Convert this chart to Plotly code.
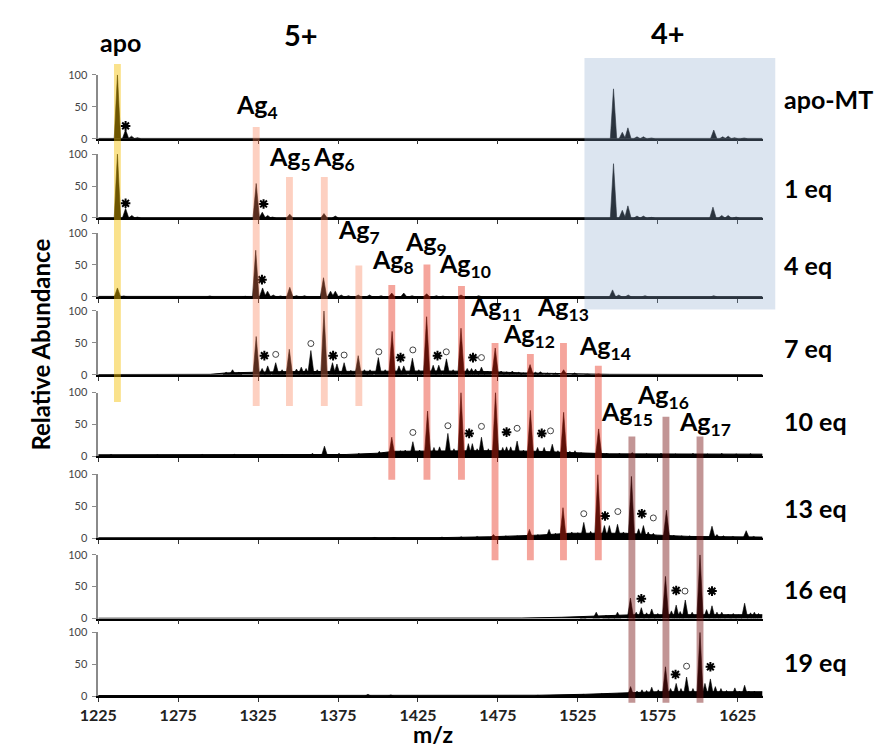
import plotly.graph_objects as go

# ---------------- DATA ----------------
panel_labels = ["apo-MT", "1 eq", "4 eq", "7 eq", "10 eq", "13 eq", "16 eq", "19 eq"]
x_ticks = [1225, 1275, 1325, 1375, 1425, 1475, 1525, 1575, 1625]
y_ticks = [0, 50, 100]

# (m/z, relative abundance) of the peaks in each spectrum
peaks_apo_mt = [(1237.0, 100), (1242.1, 14), (1245.8, 4), (1249.5, 1.5),
                (1547.3, 78), (1552.8, 10), (1556.3, 17), (1562.0, 3), (1566.0, 3), (1571.0, 1),
                (1610.0, 13.5), (1615.6, 3), (1619.0, 4), (1623.0, 1.5), (1629.0, 1)]
peaks_1eq = [(1237.0, 100), (1242.1, 15), (1246.0, 4), (1249.5, 1.5),
             (1323.8, 54), (1327.6, 9), (1331.0, 4), (1334.0, 1.5), (1344.8, 6), (1366.2, 7), (1373.3, 3),
             (1547.3, 85), (1552.8, 12), (1556.3, 19), (1562.0, 3), (1566.0, 3), (1571.0, 1),
             (1609.5, 17), (1615.0, 4), (1619.0, 4), (1624.0, 1.5)]
peaks_4eq = [(1237.0, 14), (1241.0, 1.5), (1294.8, 1.5), (1317.0, 1), (1323.5, 73), (1327.8, 14),
             (1330.9, 9), (1334.5, 3), (1339.0, 1.5), (1344.8, 15), (1349.0, 2), (1354.0, 2),
             (1365.9, 30), (1370.3, 9), (1373.3, 9), (1377.0, 3), (1381.5, 2), (1387.6, 3),
             (1394.7, 3), (1401.9, 2), (1408.6, 6), (1416.1, 6), (1421.3, 2), (1430.4, 5),
             (1436.5, 2), (1440.6, 1.5), (1451.9, 3), (1463.0, 2),
             (1546.7, 11), (1550.6, 3), (1556.5, 3), (1567.0, 2), (1610.0, 2)]
peaks_7eq = [(1305, 4), (1309, 8), (1313, 4), (1323.8, 60), (1327.5, 10), (1331, 14), (1336, 19),
             (1340, 8), (1344.5, 40), (1349, 9), (1352, 12), (1355, 10), (1358, 38), (1362, 8),
             (1366.2, 100), (1371.5, 19), (1374.3, 17), (1378.8, 19), (1383, 7), (1387.6, 30),
             (1391.5, 8), (1395, 8), (1400.2, 27), (1404.5, 8), (1408.8, 68), (1413.1, 14),
             (1416.1, 14), (1421.5, 26), (1425.5, 8), (1430.4, 91), (1434.5, 15), (1438.0, 15),
             (1442.8, 25), (1447, 8), (1451.9, 73), (1455.8, 10), (1458.5, 10), (1461, 9),
             (1464.7, 12), (1468.5, 6), (1473.3, 42), (1477, 6), (1480.5, 5), (1484, 6),
             (1488, 4), (1491, 3), (1495.1, 16), (1498.5, 4), (1501.6, 5), (1506, 3), (1511, 3),
             (1516.1, 8), (1523, 3), (1531, 1), (1538, 1.5)]
peaks_10eq = [(1233, 3), (1262, 2.5), (1290, 3), (1310, 3.5), (1340, 3), (1359, 5), (1366.5, 16),
              (1375.6, 5), (1388, 5), (1395, 4), (1400.8, 8), (1408.6, 30), (1414, 9), (1417, 10),
              (1421.8, 23), (1426, 10), (1431, 71), (1435, 14), (1438.5, 15), (1443.7, 36),
              (1447.5, 12), (1451.9, 100), (1456.5, 20), (1459, 20), (1462, 12), (1464.7, 30),
              (1469, 12), (1473.5, 100), (1478, 14), (1480.4, 15), (1483, 15), (1487, 24),
              (1491, 10), (1495.3, 72), (1499.8, 14), (1503.9, 14), (1509, 19), (1512.5, 9),
              (1516.1, 69), (1520, 8), (1523.2, 9), (1527, 6), (1532, 5), (1538, 43), (1543, 5),
              (1551, 5), (1559, 6), (1568, 4.5), (1577, 5), (1586, 4), (1597, 5), (1606, 4),
              (1615, 5), (1624, 4), (1633, 4.5)]
peaks_13eq = [(1398, 1.5), (1410, 1.5), (1440, 2), (1452, 2.5), (1462, 3), (1472.2, 6), (1480, 4),
              (1487, 4), (1494.7, 14), (1500, 6), (1507, 14), (1511, 8), (1515.7, 48),
              (1521.2, 10), (1525, 9), (1528.7, 25), (1533, 11), (1537.5, 100), (1541.6, 20),
              (1544.7, 20), (1549.8, 22), (1553.5, 10), (1558.5, 97), (1563, 15), (1566, 20),
              (1569, 10), (1572.2, 8), (1580.4, 44), (1585, 5), (1590, 4), (1595, 4),
              (1601.4, 3), (1608.9, 19), (1612, 6), (1616, 4), (1622, 3), (1630.3, 12), (1635, 3)]
peaks_16eq = [(1528.3, 2), (1536.5, 10), (1542.6, 5), (1546, 5), (1549.8, 10), (1557.9, 32),
              (1561.5, 10), (1564.7, 17), (1568, 9), (1571.2, 15), (1575, 8), (1579.8, 66),
              (1583.5, 12), (1586.5, 21), (1589, 11), (1592.2, 29), (1596.5, 10), (1601.4, 100),
              (1605.5, 14), (1608.9, 20), (1612, 10), (1615, 10), (1619, 7), (1622.2, 8),
              (1625.5, 6), (1629.3, 24), (1633, 9), (1635.4, 10), (1638, 8)]
peaks_19eq = [(1393.7, 3), (1408, 2), (1500, 1.5), (1528.3, 3), (1540, 4), (1545, 4), (1550.8, 5),
              (1558, 15), (1562, 8), (1565.1, 10), (1568, 9), (1571.2, 14), (1575.3, 10),
              (1579.8, 46), (1583, 12), (1586.5, 20), (1589.5, 12), (1593, 30), (1597, 12),
              (1601.4, 100), (1604.5, 20), (1607.9, 27), (1611, 15), (1614.5, 12), (1618, 9),
              (1623.2, 13), (1626, 8), (1629.3, 17), (1632, 8), (1635.4, 8), (1638.5, 6)]

# noisy background level (m/z, level) under each spectrum
floor_apo_mt = [(1225, 0.4), (1640.5, 0.4)]
floor_1eq = [(1225, 0.4), (1640.5, 0.4)]
floor_4eq = [(1225, 0.8), (1480, 0.8), (1500, 0.4), (1640.5, 0.4)]
floor_7eq = [(1225, 0.5), (1295, 0.8), (1305, 3), (1320, 4), (1340, 5), (1440, 6), (1470, 5),
             (1490, 3), (1520, 1.5), (1545, 0.8), (1640.5, 0.5)]
floor_10eq = [(1225, 2.5), (1380, 3), (1400, 5), (1410, 8), (1470, 9), (1500, 8), (1520, 6),
              (1545, 4), (1640.5, 3.5)]
floor_13eq = [(1225, 0.8), (1440, 1.2), (1470, 2.5), (1500, 5), (1520, 8), (1555, 8), (1575, 5),
              (1595, 3), (1640.5, 2)]
floor_16eq = [(1225, 0.5), (1490, 0.8), (1515, 2), (1540, 4), (1560, 6), (1640.5, 6)]
floor_19eq = [(1225, 1), (1380, 1), (1400, 2), (1420, 1.5), (1500, 1.5), (1530, 3), (1555, 5),
              (1575, 7), (1640.5, 7)]

# asterisk (*) and circle (o) marks: (m/z, height) per panel
stars = [[(1242.1, 20)], [(1242.1, 23), (1328.4, 22)], [(1327.4, 27)],
         [(1328.9, 30), (1371.9, 30), (1414.1, 27), (1437.2, 30), (1459.4, 27)],
         [(1457.0, 36), (1480.4, 38), (1502.4, 36)],
         [(1542.0, 35), (1565.0, 38.6)],
         [(1564.7, 31), (1586.5, 44), (1608.9, 43)],
         [(1586.1, 34), (1607.9, 46)]]
circles = [[], [], [],
           [(1336.0, 32), (1358.0, 49), (1378.8, 31), (1400.5, 36), (1421.8, 39), (1442.7, 36), (1464.7, 27)],
           [(1421.8, 37.5), (1443.7, 48), (1464.7, 47), (1487.0, 44), (1507.9, 40)],
           [(1528.7, 38.6), (1550.0, 42), (1572.2, 32)],
           [(1592.0, 43)],
           [(1593.0, 47)]]

# highlighted species: label, m/z of highlight
species = ["apo", "4", "5", "6", "7", "8", "9", "10", "11", "12", "13", "14", "15", "16", "17"]
species_mz = [1237.0, 1323.8, 1344.6, 1366.4, 1388.0, 1408.6, 1430.6, 1452.2, 1473.2, 1495.3,
              1516.0, 1537.8, 1558.8, 1580.1, 1601.4]

peaks = [peaks_apo_mt, peaks_1eq, peaks_4eq, peaks_7eq, peaks_10eq, peaks_13eq, peaks_16eq, peaks_19eq]
floors = [floor_apo_mt, floor_1eq, floor_4eq, floor_7eq, floor_10eq, floor_13eq, floor_16eq, floor_19eq]

# ---------------- LAYOUT / STYLE ----------------
PW, PH = 876, 753
X0_PX, X1_PX = 81, 760
MZ_RANGE = [1225, 1640.5]
PANEL_PX = 65
baselines_px = [134, 214.7, 295, 374.3, 457.3, 540.7, 622.3, 701.3]
PEAK_HW = 2.0
BAR_HW = 2.15
FONT = "Lato"

# bar vertical extents (px) and colour group for each species
bar_top_px = [58, 122, 173, 173, 263, 283, 262, 284, 342, 353, 342, 365, 437, 417, 437]
bar_bot_px = [402, 406, 406, 406, 406, 481, 481, 481, 563, 563, 563, 563, 708, 708, 708]
bar_group = [0, 1, 1, 1, 1, 2, 2, 2, 2, 2, 2, 2, 3, 3, 3]
group_color = ["rgb(245,190,0)", "rgb(250,125,83)", "rgb(230,40,20)", "rgb(120,20,20)"]
group_alpha = [0.45, 0.36, 0.42, 0.45]
# label centres (px)
label_px = [(104, 36), (243, 101), (277, 154), (322, 154), (348, 228), (382, 258), (416, 240),
            (456, 263), (488, 306), (521, 334), (556, 306), (599, 346), (621, 413), (658, 396),
            (701, 423)]


def px2x(px):
    return px / PW


def px2y(py):
    return 1 - py / PH


fig = go.Figure()
layout = {}
for i in range(8):
    k = "" if i == 0 else str(i + 1)
    fx = [p[0] for p in floors[i]]
    fy = [p[1] for p in floors[i]]
    fig.add_trace(go.Scatter(x=fx, y=fy, mode="lines", fill="tozeroy", fillcolor="black",
                             line=dict(color="black", width=1), xaxis="x" + k, yaxis="y" + k,
                             hoverinfo="skip", showlegend=False))
    xs, ys = [], []
    for c, h in peaks[i]:
        xs += [c - PEAK_HW, c, c + PEAK_HW, None]
        ys += [0, h, 0, None]
    fig.add_trace(go.Scatter(x=xs, y=ys, mode="lines", fill="toself", fillcolor="black",
                             line=dict(color="black", width=0.6), xaxis="x" + k, yaxis="y" + k,
                             hoverinfo="skip", showlegend=False))
    if stars[i]:
        fig.add_trace(go.Scatter(x=[s[0] for s in stars[i]], y=[s[1] for s in stars[i]], mode="markers",
                                 marker=dict(symbol="asterisk-open", size=8, color="black",
                                             line=dict(color="black", width=2)),
                                 cliponaxis=False, xaxis="x" + k, yaxis="y" + k, hoverinfo="skip",
                                 showlegend=False))
    if circles[i]:
        fig.add_trace(go.Scatter(x=[s[0] for s in circles[i]], y=[s[1] for s in circles[i]], mode="markers",
                                 marker=dict(symbol="circle-open", size=6, color="#444",
                                             line=dict(color="#444", width=1)),
                                 cliponaxis=False, xaxis="x" + k, yaxis="y" + k, hoverinfo="skip",
                                 showlegend=False))
    b = px2y(baselines_px[i])
    layout["yaxis" + k] = dict(domain=[b, b + PANEL_PX / PH], range=[0, 100], tickvals=y_ticks,
                               ticks="outside", ticklen=4, tickcolor="#8a8a8a", tickwidth=1.2,
                               showline=True, linecolor="#8a8a8a", linewidth=1.5, showgrid=False,
                               zeroline=False, anchor="x" + k, ticklabelstandoff=3,
                               tickfont=dict(family=FONT, size=11, color="#444"))
    layout["xaxis" + k] = dict(domain=[px2x(X0_PX), px2x(X1_PX)], range=MZ_RANGE, tickvals=x_ticks,
                               ticks="outside", ticklen=4, tickcolor="#333", tickwidth=1.2,
                               showline=True, linecolor="black", linewidth=1.6, showgrid=False,
                               zeroline=False, anchor="y" + k, showticklabels=(i == 7),
                               tickfont=dict(family=FONT, size=16, color="#222", weight="bold"))

shapes = []
# blue 4+ box
shapes.append(dict(type="rect", xref="paper", yref="paper", x0=px2x(578), x1=px2x(773),
                   y0=px2y(307.7), y1=px2y(52), fillcolor="rgba(140,170,205,0.30)",
                   line=dict(width=0), layer="above"))
for j in range(len(species)):
    g = bar_group[j]
    shapes.append(dict(type="rect", xref="x", yref="paper", x0=species_mz[j] - BAR_HW,
                       x1=species_mz[j] + BAR_HW, y0=px2y(bar_bot_px[j]), y1=px2y(bar_top_px[j]),
                       fillcolor=group_color[g], opacity=group_alpha[g], line=dict(width=0),
                       layer="above"))

annotations = []
for j in range(len(species)):
    txt = "apo" if species[j] == "apo" else "Ag<sub>%s</sub>" % species[j]
    lx, ly = label_px[j]
    annotations.append(dict(text=txt, x=px2x(lx), y=px2y(ly), xref="paper", yref="paper",
                            showarrow=False, xanchor="center", yanchor="middle",
                            font=dict(family=FONT, size=25, color="black", weight="bold")))
label_y_px = [94, 184, 263, 347, 421, 510, 592, 667]
for i in range(8):
    annotations.append(dict(text=panel_labels[i], x=px2x(780), y=px2y(label_y_px[i]), xref="paper",
                            yref="paper", showarrow=False, xanchor="left", yanchor="middle",
                            font=dict(family=FONT, size=25, color="black", weight="bold")))
annotations.append(dict(text="5+", x=px2x(288), y=px2y(28), xref="paper", yref="paper", showarrow=False,
                        xanchor="center", yanchor="middle",
                        font=dict(family=FONT, size=29, color="black", weight="bold")))
annotations.append(dict(text="4+", x=px2x(663), y=px2y(26), xref="paper", yref="paper", showarrow=False,
                        xanchor="center", yanchor="middle",
                        font=dict(family=FONT, size=29, color="black", weight="bold")))
annotations.append(dict(text="Relative Abundance", x=px2x(22), y=px2y(344), xref="paper", yref="paper",
                        showarrow=False, textangle=-90, xanchor="center", yanchor="middle",
                        font=dict(family=FONT, size=24, color="black", weight="bold")))
annotations.append(dict(text="m/z", x=px2x(423), y=px2y(740), xref="paper", yref="paper",
                        showarrow=False, xanchor="center", yanchor="middle",
                        font=dict(family=FONT, size=23, color="black", weight="bold")))

fig.update_layout(width=PW, height=PH, margin=dict(l=0, r=0, t=0, b=0), paper_bgcolor="white",
                  plot_bgcolor="rgba(0,0,0,0)", showlegend=False, shapes=shapes,
                  annotations=annotations, **layout)
fig.write_html("out.html")
